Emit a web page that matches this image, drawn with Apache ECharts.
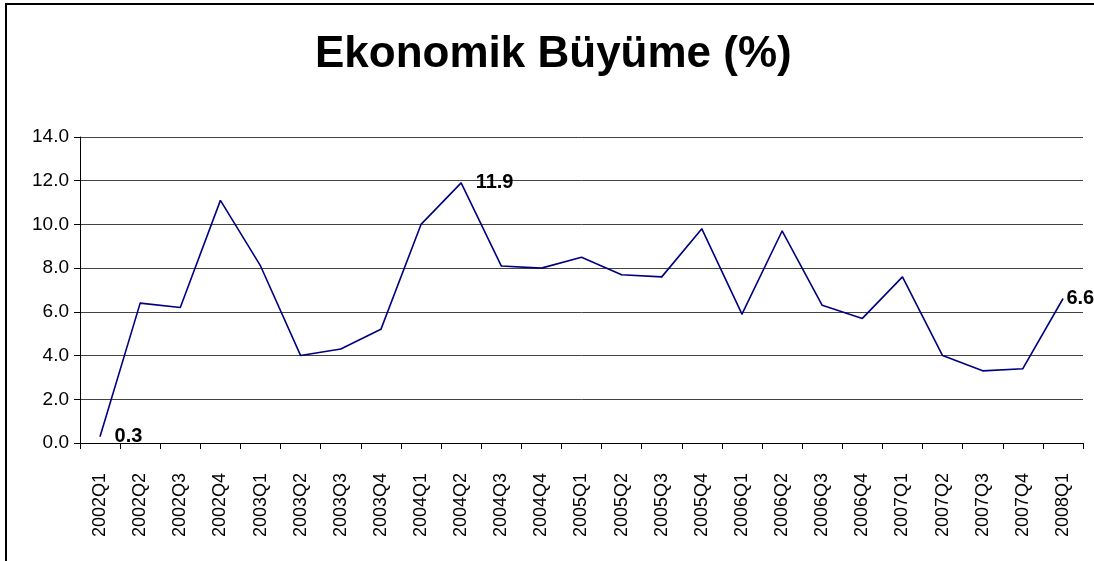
<!DOCTYPE html>
<html>
<head>
<meta charset="utf-8">
<script src="https://cdn.jsdelivr.net/npm/echarts@6/dist/echarts.min.js"></script>
<style>html,body{margin:0;padding:0;background:#fff;}#c{width:1094px;height:561px;}</style>
</head>
<body>
<div id="c"></div>
<script>
const titleText = 'Ekonomik Büyüme (%)';
const categories = ['2002Q1','2002Q2','2002Q3','2002Q4','2003Q1','2003Q2','2003Q3','2003Q4',
  '2004Q1','2004Q2','2004Q3','2004Q4','2005Q1','2005Q2','2005Q3','2005Q4',
  '2006Q1','2006Q2','2006Q3','2006Q4','2007Q1','2007Q2','2007Q3','2007Q4','2008Q1'];
const growth = [0.3, 6.4, 6.2, 11.1, 8.1, 4.0, 4.3, 5.2,
  10.0, 11.9, 8.1, 8.0, 8.5, 7.7, 7.6, 9.8,
  5.9, 9.7, 6.3, 5.7, 7.6, 4.0, 3.3, 3.4, 6.6];
const labelledIdx = [0, 9, 24];
const labelDistance = {0: 14, 9: 14, 24: 3};

const FONT = '"Liberation Sans", Arial, sans-serif';
const data = growth.map((v, i) => {
  if (labelledIdx.indexOf(i) >= 0) {
    return { value: v, label: { show: true, position: 'right', distance: labelDistance[i],
      formatter: (p) => Number(p.value).toFixed(1), fontSize: 20, fontWeight: 'bold', color: '#000', fontFamily: FONT } };
  }
  return { value: v };
});

const chart = echarts.init(document.getElementById('c'), null, { renderer: 'canvas' });
chart.setOption({
  backgroundColor: '#fff',
  animation: false,
  title: {
    text: titleText, left: 310, top: 28,
    textStyle: { fontSize: 44, fontWeight: 'bold', color: '#000', fontFamily: FONT }
  },
  grid: { left: 80, right: 11, top: 137, bottom: 118 },
  xAxis: {
    type: 'category', data: categories, boundaryGap: true,
    axisLine: { lineStyle: { color: '#000', width: 1 } },
    axisTick: { show: true, length: 6, lineStyle: { color: '#000' } },
    axisLabel: { rotate: 90, margin: 30, fontSize: 18, color: '#000', fontFamily: FONT, interval: 0 },
    splitLine: { show: false }
  },
  yAxis: {
    type: 'value', min: 0, max: 14, interval: 2,
    axisLine: { show: true, lineStyle: { color: '#000', width: 1 } },
    axisTick: { show: true, length: 6, lineStyle: { color: '#000' } },
    axisLabel: { fontSize: 19, color: '#000', fontFamily: FONT, margin: 11, formatter: (v) => v.toFixed(1) },
    splitLine: { show: true, lineStyle: { color: '#444', width: 1 } }
  },
  series: [{
    type: 'line', data: data, symbol: 'circle', symbolSize: 1, showSymbol: true, showAllSymbol: true,
    lineStyle: { color: '#000080', width: 1.6 },
    itemStyle: { color: '#000080' },
    labelLayout: { hideOverlap: false }
  }],
  graphic: [
    { type: 'line', shape: { x1: 6, y1: 3, x2: 6, y2: 561 }, style: { stroke: '#000', lineWidth: 2 } },
    { type: 'line', shape: { x1: 5, y1: 4, x2: 1094, y2: 4 }, style: { stroke: '#000', lineWidth: 2 } }
  ]
});
</script>
</body>
</html>
